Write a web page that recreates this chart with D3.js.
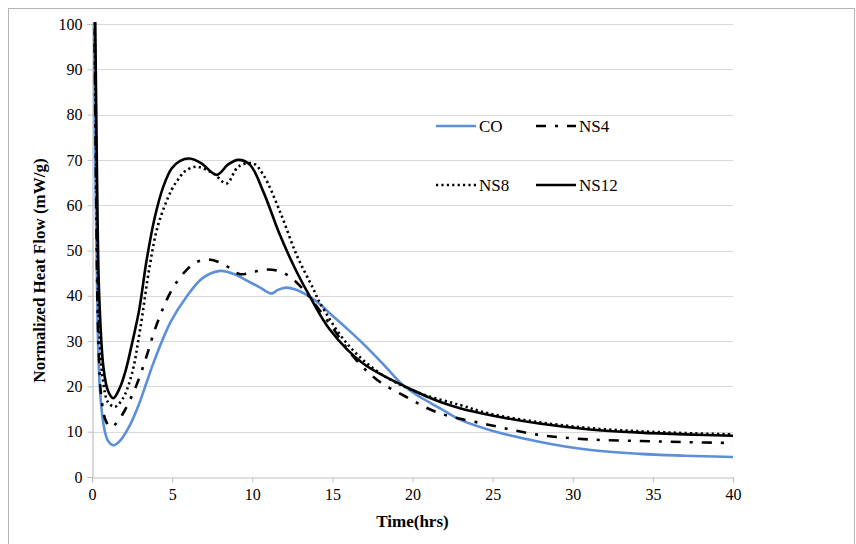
<!DOCTYPE html>
<html>
<head>
<meta charset="utf-8">
<script src="https://cdn.jsdelivr.net/npm/d3@7"></script>
<style>
  html, body { margin: 0; padding: 0; background: #fff; }
  svg { display: block; }
</style>
</head>
<body>
<svg id="chart" width="856" height="544"></svg>
<script>
// ---- data (time in hrs, normalized heat flow in mW/g) ----
const xTicks = [0, 5, 10, 15, 20, 25, 30, 35, 40];
const yTicks = [0, 10, 20, 30, 40, 50, 60, 70, 80, 90, 100];
const seriesNames = ["CO", "NS4", "NS8", "NS12"];

const coData = [[0.08,130],[0.2,70],[0.35,34],[0.5,19],[0.75,11],[1.0,8.0],[1.35,7.0],[1.75,8.0],[2.3,11.0],[2.9,15.8],[3.4,20.8],[3.9,25.8],[4.9,34.2],[5.9,39.8],[6.9,43.9],[8.0,45.5],[9.0,44.6],[9.7,43.3],[10.5,41.8],[11.2,40.5],[11.6,41.3],[12.1,41.8],[12.7,41.4],[13.4,40.2],[14.1,38.5],[14.85,36.1],[15.9,32.8],[16.9,29.5],[18.2,24.8],[19.4,20.3],[20.5,17.6],[21.7,15.2],[23.0,12.6],[24.8,10.4],[27.9,7.8],[31.0,6.0],[34.2,5.1],[37,4.7],[40,4.4]];

const ns4Data = [[0.1,130],[0.25,65],[0.4,30],[0.6,17],[0.85,12.5],[1.15,11.0],[1.5,11.8],[1.9,13.8],[2.3,16.5],[2.8,20.5],[3.4,26.6],[3.9,32.3],[4.66,39.1],[5.2,42.6],[5.9,45.7],[6.5,47.4],[7.3,48.0],[8.2,47.0],[9.2,44.8],[10.0,45.2],[10.9,45.8],[11.8,45.3],[12.6,43.5],[13.4,40.5],[13.8,38.7],[15,33.0],[16.4,26.2],[17.8,21.4],[19.6,17.7],[21.6,14.2],[24.8,11.5],[27.9,9.3],[31.0,8.3],[34.2,7.95],[37,7.7],[40,7.5]];

const ns8Data = [[0.1,130],[0.28,65],[0.45,33],[0.68,21.5],[1.0,16.5],[1.43,15.5],[1.9,17.2],[2.47,22.5],[3.0,32.5],[3.62,47.0],[4.14,55.8],[4.97,63.4],[5.5,66.3],[5.8,67.5],[6.5,68.5],[7.57,67.0],[8.4,64.8],[9.13,68.5],[10.06,69.2],[10.69,66.7],[11.73,58.6],[12.77,49.0],[13.8,41.6],[14.2,38.6],[15.9,29.5],[17.97,22.9],[20.46,18.5],[22.96,15.9],[24.8,14.0],[27.9,12.1],[31.07,10.8],[34.2,10.1],[37,9.7],[40,9.4]];

const ns12Data = [[0.12,130],[0.3,70],[0.45,40],[0.72,24],[1.0,19],[1.33,17.4],[1.75,19.8],[2.1,23.5],[2.5,29.5],[2.95,37.0],[3.41,47.9],[3.93,57.5],[4.45,64.1],[4.97,68.1],[5.5,69.8],[6.1,70.3],[6.8,69.3],[7.78,66.7],[8.5,69.0],[9.13,70.0],[9.86,68.9],[10.69,63.0],[11.73,53.4],[12.77,45.3],[13.6,39.8],[14.85,32.5],[16.9,25.1],[20.0,19.2],[21.7,16.6],[22.96,15.2],[24.8,13.7],[27.9,11.8],[31.07,10.5],[34.2,9.8],[37,9.4],[40,9.1]];

// ---- layout ----
const FONT = "'Liberation Serif', 'Times New Roman', 'DejaVu Serif', serif";
const svg = d3.select("#chart");
const W = 856, H = 544;
const margin = {left: 92, right: 123, top: 24, bottom: 67};
const x = d3.scaleLinear().domain([0, 40]).range([margin.left, W - margin.right]);
const y = d3.scaleLinear().domain([0, 100]).range([H - margin.bottom, margin.top]);

// outer border
svg.append("rect").attr("x", 8.5).attr("y", 8.5).attr("width", 846).attr("height", 545)
  .attr("fill", "none").attr("stroke", "#b3b3b3").attr("stroke-width", 1);

// gridlines
svg.append("g").selectAll("line").data(yTicks.filter(d => d > 0)).join("line")
  .attr("x1", x(0)).attr("x2", x(40))
  .attr("y1", d => Math.round(y(d)) + 0.5).attr("y2", d => Math.round(y(d)) + 0.5)
  .attr("stroke", "#d9d9d9").attr("stroke-width", 1.2);

// axes
const xAxis = d3.axisBottom(x).tickValues(xTicks).tickSize(5).tickPadding(6);
const gx = svg.append("g").attr("transform", `translate(0,${Math.round(y(0)) + 0.5})`).call(xAxis);
gx.select(".domain").attr("stroke", "#bfbfbf").attr("stroke-width", 1.2);
gx.selectAll(".tick line").attr("stroke", "#bfbfbf");
gx.selectAll(".tick text").style("font-family", FONT).style("font-size", "16px").attr("fill", "#000");

const yAxis = d3.axisLeft(y).tickValues(yTicks).tickSize(5).tickPadding(5);
const gy = svg.append("g").attr("transform", `translate(${Math.round(x(0)) + 0.5},0)`).call(yAxis);
gy.select(".domain").attr("stroke", "#bfbfbf").attr("stroke-width", 1.2);
gy.selectAll(".tick line").attr("stroke", "#bfbfbf");
gy.selectAll(".tick text").style("font-family", FONT).style("font-size", "16px").attr("fill", "#000");

// clip
svg.append("clipPath").attr("id", "plotclip").append("rect")
  .attr("x", x(0) - 2).attr("y", y(100) - 2).attr("width", x(40) - x(0) + 4).attr("height", y(0) - y(100) + 2);

const line = d3.line().x(d => x(d[0])).y(d => y(d[1])).curve(d3.curveCatmullRom.alpha(0.5));

const styles = {
  CO:   {data: coData,  color: "#5B8FD8", width: 2.6, dash: null},
  NS4:  {data: ns4Data, color: "#000",    width: 2.6, dash: "10,9,3,9"},
  NS8:  {data: ns8Data, color: "#000",    width: 2.6, dash: "2.2,3.2"},
  NS12: {data: ns12Data,color: "#000",    width: 2.6, dash: null}
};

const plot = svg.append("g").attr("clip-path", "url(#plotclip)");
["CO", "NS4", "NS8", "NS12"].forEach(name => {
  const s = styles[name];
  plot.append("path").datum(s.data).attr("d", line)
    .attr("fill", "none").attr("stroke", s.color).attr("stroke-width", s.width)
    .attr("stroke-dasharray", s.dash).attr("stroke-linejoin", "round");
});

// legend
const legendPos = {CO: [436, 126], NS4: [536, 126], NS8: [436, 185], NS12: [536, 185]};
seriesNames.forEach(name => {
  const s = styles[name];
  const [lx, ly] = legendPos[name];
  svg.append("line").attr("x1", lx).attr("x2", lx + 40).attr("y1", ly).attr("y2", ly)
    .attr("stroke", s.color).attr("stroke-width", s.width).attr("stroke-dasharray", s.dash);
  svg.append("text").attr("x", lx + 43).attr("y", ly).attr("dy", "0.35em")
    .style("font-family", FONT).style("font-size", "17px").text(name);
});

// axis titles
svg.append("text").attr("x", x(20)).attr("y", 527).attr("text-anchor", "middle")
  .style("font-family", FONT).style("font-size", "17px").style("font-weight", "bold").text("Time(hrs)");
svg.append("text").attr("transform", `translate(45,${(y(0) + y(100)) / 2 + 20}) rotate(-90)`)
  .attr("text-anchor", "middle")
  .style("font-family", FONT).style("font-size", "17px").style("font-weight", "bold")
  .text("Normalized Heat Flow (mW/g)");
</script>
</body>
</html>
